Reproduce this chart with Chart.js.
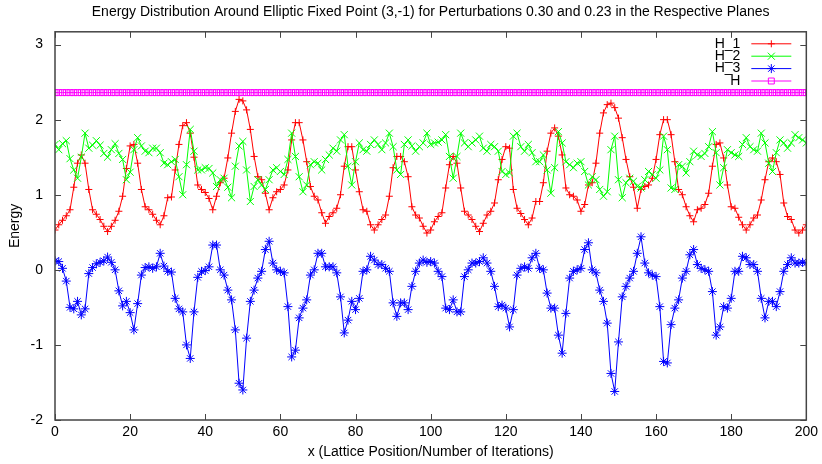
<!DOCTYPE html>
<html lang="en">
<head>
    <meta charset="UTF-8">
    <title>Energy Distribution Around Elliptic Fixed Point</title>
    <script src="https://cdn.jsdelivr.net/npm/chart.js"></script>
    <style>
        body { margin: 0; background: #fff; overflow: hidden; }
    </style>
</head>
<body>
    <canvas id="energyChart" width="822" height="464"></canvas>
    <script>
        // lattice positions 0..200
        const positions = Array.from({ length: 201 }, (_, i) => i);

        const h1 = [
            0.53, 0.60, 0.66, 0.72, 0.80, 1.10, 1.42, 1.53, 1.42, 1.07,
            0.80, 0.74, 0.67, 0.58, 0.51, 0.58, 0.66, 0.78, 0.98, 1.35,
            1.65, 1.67, 1.42, 1.07, 0.84, 0.80, 0.74, 0.66, 0.60, 0.72,
            0.96, 0.97, 1.33, 1.67, 1.92, 1.96, 1.82, 1.50, 1.13, 1.07,
            1.03, 0.95, 0.80, 0.98, 1.16, 1.22, 1.49, 1.82, 2.11, 2.27,
            2.25, 2.13, 1.87, 1.51, 1.24, 1.20, 1.02, 0.80, 0.96, 1.04,
            1.07, 1.13, 1.33, 1.73, 1.96, 1.96, 1.73, 1.44, 1.11, 0.98,
            0.93, 0.76, 0.62, 0.71, 0.76, 0.82, 1.00, 1.38, 1.64, 1.64,
            1.33, 1.04, 0.80, 0.78, 0.60, 0.53, 0.60, 0.67, 0.73, 0.98,
            1.36, 1.51, 1.51, 1.44, 1.24, 0.84, 0.73, 0.69, 0.58, 0.49,
            0.53, 0.64, 0.71, 0.76, 1.09, 1.40, 1.51, 1.42, 1.09, 0.78,
            0.73, 0.67, 0.58, 0.51, 0.62, 0.73, 0.78, 0.89, 1.20, 1.47,
            1.64, 1.62, 1.07, 0.82, 0.75, 0.67, 0.60, 0.69, 0.91, 0.91,
            1.16, 1.58, 1.82, 1.89, 1.78, 1.53, 1.09, 1.00, 0.98, 0.93,
            0.78, 0.87, 1.13, 1.16, 1.42, 1.82, 2.09, 2.20, 2.22, 2.16,
            2.02, 1.76, 1.47, 1.24, 1.10, 0.82, 1.07, 1.11, 1.13, 1.22,
            1.47, 1.80, 2.00, 2.00, 1.80, 1.44, 1.07, 1.00, 0.84, 0.72,
            0.64, 0.80, 0.82, 0.87, 1.02, 1.38, 1.67, 1.69, 1.49, 1.13,
            0.84, 0.82, 0.70, 0.60, 0.53, 0.60, 0.69, 0.73, 0.93, 1.20,
            1.44, 1.49, 1.44, 1.27, 0.89, 0.71, 0.67, 0.53, 0.49, 0.53,
            0.60
        ];

        const h2 = [
            1.67, 1.60, 1.68, 1.72, 1.48, 1.33, 1.22, 1.50, 1.82, 1.62,
            1.66, 1.72, 1.66, 1.55, 1.50, 1.60, 1.68, 1.55, 1.47, 1.20,
            1.30, 1.60, 1.76, 1.65, 1.58, 1.56, 1.62, 1.62, 1.56, 1.42,
            1.40, 1.44, 1.47, 1.24, 1.00, 1.40, 1.87, 1.58, 1.33, 1.33,
            1.36, 1.35, 1.29, 1.11, 1.20, 1.22, 1.10, 0.96, 1.38, 1.65,
            1.71, 1.33, 0.91, 1.11, 1.20, 1.13, 1.07, 1.20, 1.33, 1.36,
            1.31, 1.27, 1.47, 1.82, 1.51, 1.24, 1.04, 1.13, 1.40, 1.44,
            1.42, 1.33, 1.47, 1.53, 1.62, 1.58, 1.73, 1.80, 1.38, 1.13,
            1.44, 1.69, 1.60, 1.58, 1.67, 1.73, 1.67, 1.60, 1.69, 1.82,
            1.64, 1.33, 1.27, 1.67, 1.73, 1.65, 1.58, 1.64, 1.69, 1.82,
            1.67, 1.69, 1.70, 1.73, 1.80, 1.51, 1.22, 1.51, 1.82, 1.69,
            1.64, 1.69, 1.73, 1.78, 1.62, 1.58, 1.67, 1.64, 1.58, 1.31,
            1.27, 1.29, 1.78, 1.82, 1.64, 1.58, 1.67, 1.56, 1.44, 1.44,
            1.53, 1.33, 1.02, 1.36, 1.84, 1.69, 1.44, 1.40, 1.36, 1.42,
            1.44, 1.31, 1.13, 1.24, 1.20, 1.07, 0.98, 1.04, 1.60, 1.78,
            1.20, 0.96, 1.16, 1.22, 1.18, 1.11, 1.09, 1.20, 1.31, 1.27,
            1.22, 1.33, 1.78, 1.60, 1.09, 1.07, 1.40, 1.38, 1.29, 1.44,
            1.58, 1.53, 1.51, 1.55, 1.64, 1.84, 1.56, 1.13, 1.36, 1.60,
            1.56, 1.53, 1.51, 1.67, 1.76, 1.64, 1.60, 1.58, 1.82, 1.69,
            1.42, 1.31, 1.56, 1.73, 1.69, 1.62, 1.69, 1.80, 1.76, 1.73,
            1.69
        ];

        const h3 = [
            0.12, 0.11, 0.02, -0.15, -0.50, -0.52, -0.42, -0.60, -0.52, -0.05,
            0.03, 0.08, 0.10, 0.12, 0.17, 0.10, 0.00, -0.28, -0.48, -0.42,
            -0.57, -0.80, -0.45, -0.07, 0.03, 0.04, 0.02, 0.04, 0.22, 0.05,
            -0.02, -0.03, -0.38, -0.52, -0.56, -1.00, -1.18, -0.56, -0.10, -0.02,
            -0.01, 0.04, 0.33, 0.33, 0.00, -0.07, -0.27, -0.40, -0.80, -1.51,
            -1.60, -0.91, -0.42, -0.27, -0.11, -0.02, 0.27, 0.38, 0.09, 0.00,
            -0.02, -0.04, -0.49, -1.16, -1.07, -0.64, -0.51, -0.40, -0.07, 0.00,
            0.22, 0.22, 0.04, 0.04, 0.04, -0.04, -0.36, -0.84, -0.67, -0.42,
            -0.53, -0.38, -0.02, 0.00, 0.18, 0.13, 0.07, 0.07, 0.02, -0.02,
            -0.44, -0.62, -0.44, -0.44, -0.53, -0.22, -0.02, 0.09, 0.13, 0.10,
            0.11, 0.09, -0.02, -0.09, -0.51, -0.53, -0.40, -0.56, -0.56, -0.09,
            0.00, 0.09, 0.09, 0.11, 0.16, 0.09, -0.02, -0.22, -0.49, -0.47,
            -0.51, -0.76, -0.53, -0.07, 0.02, 0.04, 0.02, 0.16, 0.22, 0.02,
            0.00, -0.31, -0.51, -0.51, -0.87, -1.11, -0.58, -0.11, -0.02, 0.00,
            0.02, 0.27, 0.36, 0.00, -0.04, -0.27, -0.42, -0.71, -1.38, -1.62,
            -0.96, -0.36, -0.22, -0.11, -0.02, 0.22, 0.44, 0.09, -0.04, -0.07,
            -0.09, -0.49, -1.22, -1.24, -0.73, -0.51, -0.40, -0.11, -0.02, 0.20,
            0.27, 0.07, 0.02, 0.00, -0.02, -0.29, -0.87, -0.76, -0.49, -0.51,
            -0.38, -0.02, -0.02, 0.18, 0.16, 0.07, 0.07, -0.02, -0.38, -0.64,
            -0.42, -0.42, -0.49, -0.29, -0.02, 0.07, 0.16, 0.09, 0.09, 0.10,
            0.09
        ];

        // total energy H stays flat
        const hTotal = [
            2.36, 2.36, 2.36, 2.36, 2.36, 2.36, 2.36, 2.36, 2.36, 2.36, 2.36, 2.36, 2.36, 2.36, 2.36, 2.36, 2.36, 2.36, 2.36, 2.36,
            2.36, 2.36, 2.36, 2.36, 2.36, 2.36, 2.36, 2.36, 2.36, 2.36, 2.36, 2.36, 2.36, 2.36, 2.36, 2.36, 2.36, 2.36, 2.36, 2.36,
            2.36, 2.36, 2.36, 2.36, 2.36, 2.36, 2.36, 2.36, 2.36, 2.36, 2.36, 2.36, 2.36, 2.36, 2.36, 2.36, 2.36, 2.36, 2.36, 2.36,
            2.36, 2.36, 2.36, 2.36, 2.36, 2.36, 2.36, 2.36, 2.36, 2.36, 2.36, 2.36, 2.36, 2.36, 2.36, 2.36, 2.36, 2.36, 2.36, 2.36,
            2.36, 2.36, 2.36, 2.36, 2.36, 2.36, 2.36, 2.36, 2.36, 2.36, 2.36, 2.36, 2.36, 2.36, 2.36, 2.36, 2.36, 2.36, 2.36, 2.36,
            2.36, 2.36, 2.36, 2.36, 2.36, 2.36, 2.36, 2.36, 2.36, 2.36, 2.36, 2.36, 2.36, 2.36, 2.36, 2.36, 2.36, 2.36, 2.36, 2.36,
            2.36, 2.36, 2.36, 2.36, 2.36, 2.36, 2.36, 2.36, 2.36, 2.36, 2.36, 2.36, 2.36, 2.36, 2.36, 2.36, 2.36, 2.36, 2.36, 2.36,
            2.36, 2.36, 2.36, 2.36, 2.36, 2.36, 2.36, 2.36, 2.36, 2.36, 2.36, 2.36, 2.36, 2.36, 2.36, 2.36, 2.36, 2.36, 2.36, 2.36,
            2.36, 2.36, 2.36, 2.36, 2.36, 2.36, 2.36, 2.36, 2.36, 2.36, 2.36, 2.36, 2.36, 2.36, 2.36, 2.36, 2.36, 2.36, 2.36, 2.36,
            2.36, 2.36, 2.36, 2.36, 2.36, 2.36, 2.36, 2.36, 2.36, 2.36, 2.36, 2.36, 2.36, 2.36, 2.36, 2.36, 2.36, 2.36, 2.36, 2.36,
            2.36
        ];

        const FONT = '"Liberation Sans", Arial, sans-serif';
        const AXIS_COLOR = '#444';

        // gnuplot style: ticks pointing inward on all four sides plus a closed box
        const boxTicks = {
            id: 'boxTicks',
            afterDatasetsDraw(chart) {
                const { ctx, chartArea: a, scales: { x, y } } = chart;
                ctx.save();
                ctx.strokeStyle = AXIS_COLOR;
                ctx.lineWidth = 1;
                ctx.beginPath();
                x.ticks.forEach(t => {
                    const px = Math.round(x.getPixelForValue(t.value)) + 0.5;
                    ctx.moveTo(px, a.bottom); ctx.lineTo(px, a.bottom - 6);
                    ctx.moveTo(px, a.top); ctx.lineTo(px, a.top + 6);
                });
                y.ticks.forEach(t => {
                    const py = Math.round(y.getPixelForValue(t.value)) + 0.5;
                    ctx.moveTo(a.left, py); ctx.lineTo(a.left + 6, py);
                    ctx.moveTo(a.right, py); ctx.lineTo(a.right - 6, py);
                });
                ctx.stroke();
                ctx.lineWidth = 1.5;
                ctx.strokeRect(a.left, a.top, a.right - a.left, a.bottom - a.top);
                ctx.restore();
            }
        };

        // legend inside the top right corner, text first then line sample
        const cornerLegend = {
            id: 'cornerLegend',
            afterDraw(chart) {
                const { ctx, chartArea: a } = chart;
                ctx.save();
                ctx.font = '14px ' + FONT;
                ctx.textAlign = 'right';
                ctx.textBaseline = 'middle';
                chart.data.datasets.forEach((ds, i) => {
                    const yy = a.top + 12 + i * 12.4;
                    const textX = a.right - 66;
                    ctx.fillStyle = '#000';
                    ctx.fillText(ds.label, textX, yy);
                    ctx.strokeStyle = ds.borderColor;
                    ctx.lineWidth = 1;
                    ctx.beginPath();
                    ctx.moveTo(textX + 11, yy);
                    ctx.lineTo(textX + 51, yy);
                    ctx.stroke();
                    ctx.fillStyle = ds.pointBackgroundColor;
                    Chart.helpers.drawPoint(ctx, {
                        pointStyle: ds.pointStyle,
                        radius: ds.pointRadius,
                        rotation: 0,
                        borderWidth: 1
                    }, textX + 31, yy);
                });
                ctx.restore();
            }
        };

        const chartData = {
            labels: positions,
            datasets: [{
                label: 'H_1',
                data: h1,
                borderColor: '#ff0000',
                pointBorderColor: '#ff0000',
                pointBackgroundColor: '#ff0000',
                pointStyle: 'cross',
                pointRadius: 3.5,
                order: 4
            }, {
                label: 'H_2',
                data: h2,
                borderColor: '#00ff00',
                pointBorderColor: '#00ff00',
                pointBackgroundColor: '#00ff00',
                pointStyle: 'crossRot',
                pointRadius: 5,
                order: 3
            }, {
                label: 'H_3',
                data: h3,
                borderColor: '#0000ff',
                pointBorderColor: '#0000ff',
                pointBackgroundColor: '#0000ff',
                pointStyle: 'star',
                pointRadius: 4.5,
                order: 2
            }, {
                label: 'H',
                data: hTotal,
                borderColor: '#ff00ff',
                pointBorderColor: '#ff00ff',
                pointBackgroundColor: 'rgba(0,0,0,0)',
                pointStyle: 'rect',
                pointRadius: 4.2,
                order: 1
            }]
        };

        const ctx = document.getElementById('energyChart').getContext('2d');
        new Chart(ctx, {
            type: 'line',
            data: chartData,
            plugins: [boxTicks, cornerLegend],
            options: {
                responsive: false,
                animation: false,
                events: [],
                elements: {
                    line: { borderWidth: 1, tension: 0, fill: false },
                    point: { borderWidth: 1 }
                },
                layout: { padding: { left: 0, right: 12, top: 0, bottom: 0 } },
                plugins: {
                    legend: { display: false },
                    tooltip: { enabled: false },
                    title: {
                        display: true,
                        fullSize: false,
                        text: 'Energy Distribution Around Elliptic Fixed Point (3,-1) for Perturbations 0.30 and 0.23 in the Respective Planes',
                        color: '#000',
                        font: { family: FONT, size: 14, weight: 'normal' },
                        padding: { top: 4, bottom: 11 }
                    }
                },
                scales: {
                    x: {
                        type: 'linear',
                        min: 0,
                        max: 200,
                        afterFit: s => { s.height = 44; },
                        border: { display: false },
                        grid: { display: false, drawTicks: false },
                        ticks: {
                            stepSize: 20,
                            maxRotation: 0,
                            autoSkip: false,
                            padding: 4,
                            color: '#000',
                            font: { family: FONT, size: 14 }
                        },
                        title: {
                            display: true,
                            text: 'x (Lattice Position/Number of Iterations)',
                            color: '#000',
                            font: { family: FONT, size: 14 },
                            padding: { top: 0, bottom: 3 }
                        }
                    },
                    y: {
                        min: -2,
                        max: 3.17,
                        afterFit: s => { s.width = 55; },
                        border: { display: false },
                        grid: { display: false, drawTicks: false },
                        ticks: {
                            stepSize: 1,
                            includeBounds: false,
                            padding: 12,
                            color: '#000',
                            font: { family: FONT, size: 14 }
                        },
                        title: {
                            display: true,
                            text: 'Energy',
                            color: '#000',
                            font: { family: FONT, size: 14 },
                            padding: { top: 7, bottom: 0 }
                        }
                    }
                }
            }
        });
    </script>
</body>
</html>
